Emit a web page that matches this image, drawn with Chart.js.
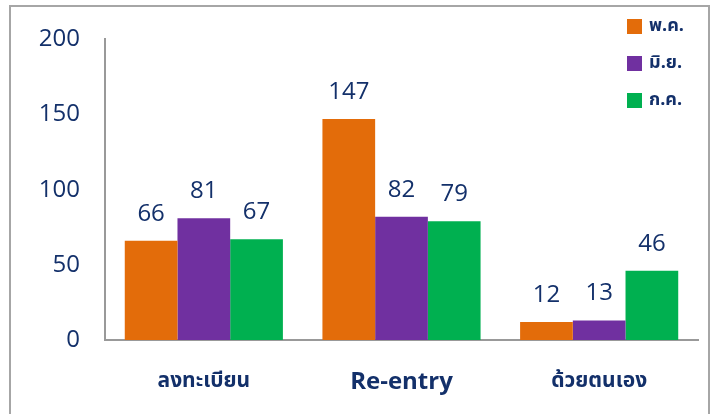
<!DOCTYPE html>
<html>
<head>
<meta charset="utf-8">
<script src="https://cdn.jsdelivr.net/npm/chart.js@4"></script>
<style>
  html, body { margin: 0; padding: 0; background: #fff; }
  #wrap { width: 717px; height: 414px; }
</style>
</head>
<body>
<div id="wrap"><canvas id="statChart" width="717" height="414"></canvas></div>
<script>
const categories = ['ลงทะเบียน', 'Re-entry', 'ด้วยตนเอง'];
const seriesNames = ['พ.ค.', 'มิ.ย.', 'ก.ค.'];
const mayValues = [66, 147, 12];
const junValues = [81, 82, 13];
const julValues = [67, 79, 46];
const yTicks = [0, 50, 100, 150, 200];

const navy = '#13306A';
const colors = ['#E36C0A', '#7030A0', '#00B050'];
const fontFamily = '"Open Sans", "Noto Sans", "Noto Sans Thai", sans-serif';

// frame around the whole picture
const framePlugin = {
    id: 'frame',
    beforeDraw(chart) {
        const ctx = chart.ctx;
        ctx.save();
        ctx.strokeStyle = '#A6A6A6';
        ctx.lineWidth = 2;
        ctx.strokeRect(10, 6, 699, 430);
        ctx.restore();
    }
};

// numbers above each bar
const valueLabels = {
    id: 'valueLabels',
    afterDatasetsDraw(chart) {
        const ctx = chart.ctx;
        ctx.save();
        ctx.fillStyle = navy;
        ctx.font = '24px ' + fontFamily;
        ctx.textAlign = 'center';
        ctx.textBaseline = 'bottom';
        chart.data.datasets.forEach((ds, i) => {
            chart.getDatasetMeta(i).data.forEach((bar, j) => {
                ctx.fillText(ds.data[j], bar.x, bar.y - 15);
            });
        });
        ctx.restore();
    }
};

// legend in the top right corner
const cornerLegend = {
    id: 'cornerLegend',
    afterDraw(chart) {
        const ctx = chart.ctx;
        ctx.save();
        ctx.font = 'bold 18px ' + fontFamily;
        ctx.textBaseline = 'middle';
        ctx.textAlign = 'left';
        chart.data.datasets.forEach((ds, i) => {
            const y = 26 + i * 37;
            ctx.fillStyle = ds.backgroundColor;
            ctx.fillRect(627, y - 7, 15, 15);
            ctx.fillStyle = navy;
            ctx.fillText(ds.label, 649, y);
        });
        ctx.restore();
    }
};

const ctx = document.getElementById('statChart').getContext('2d');
new Chart(ctx, {
    type: 'bar',
    data: {
        labels: categories,
        datasets: [
            { label: seriesNames[0], data: mayValues, backgroundColor: colors[0] },
            { label: seriesNames[1], data: junValues, backgroundColor: colors[1] },
            { label: seriesNames[2], data: julValues, backgroundColor: colors[2] }
        ]
    },
    options: {
        responsive: false,
        animation: false,
        layout: { padding: { top: 36, right: 19, left: 0, bottom: 0 } },
        datasets: { bar: { categoryPercentage: 0.8, barPercentage: 1.0 } },
        plugins: {
            legend: { display: false },
            tooltip: { enabled: false }
        },
        scales: {
            x: {
                grid: { display: false },
                border: { display: true, color: '#999999', width: 2 },
                afterFit(scale) { scale.height = 74; },
                ticks: {
                    color: navy,
                    padding: 20,
                    font: (c) => (c.index === 1
                        ? { family: fontFamily, size: 24, weight: 'bold' }
                        : { family: fontFamily, size: 21, weight: 'bold' })
                }
            },
            y: {
                min: 0,
                max: 200,
                afterFit(scale) { scale.width = 105; },
                afterBuildTicks(scale) { scale.ticks = yTicks.map(v => ({ value: v })); },
                grid: { display: false, drawTicks: false },
                border: { display: true, color: '#999999', width: 2 },
                ticks: {
                    color: navy,
                    padding: 25,
                    font: { family: fontFamily, size: 24 }
                }
            }
        }
    },
    plugins: [framePlugin, valueLabels, cornerLegend]
});
</script>
</body>
</html>
